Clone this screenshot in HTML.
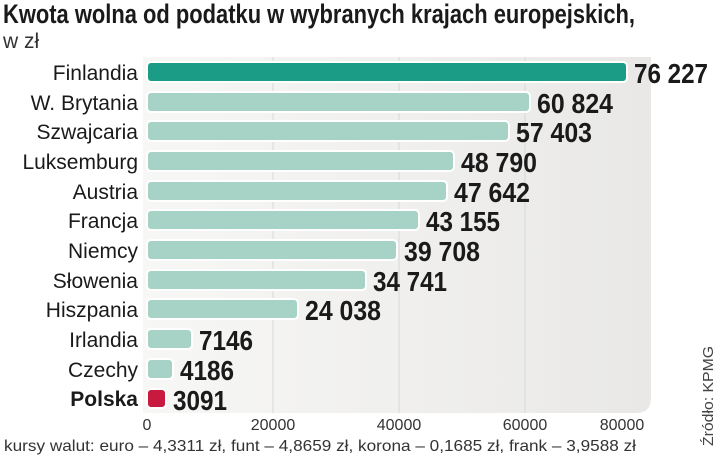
<!DOCTYPE html>
<html><head><meta charset="utf-8"><style>
html,body{margin:0;padding:0;background:#fff;}
svg{display:block;}
</style></head><body>
<svg width="720" height="455" viewBox="0 0 720 455" xmlns="http://www.w3.org/2000/svg">
<defs>
<linearGradient id="bg" x1="0" x2="1" y1="0" y2="0">
<stop offset="0" stop-color="#f7f7f6"/><stop offset="1" stop-color="#e9e8e6"/>
</linearGradient>
</defs>
<text x="3" y="23" font-family="Liberation Sans, sans-serif" font-weight="bold" font-size="27" fill="#1a1a1a" textLength="632" lengthAdjust="spacingAndGlyphs">Kwota wolna od podatku w wybranych krajach europejskich,</text>
<text x="3" y="48" font-family="Liberation Sans, sans-serif" font-size="21" fill="#333">w zł</text>
<path d="M143 57 H651 V398 Q651 413 636 413 H143 Z" fill="url(#bg)"/>
<g stroke="#d8d8d6" stroke-width="1">
<line x1="273" y1="57" x2="273" y2="413"/><line x1="399" y1="57" x2="399" y2="413"/><line x1="525" y1="57" x2="525" y2="413"/>
</g>
<g font-family="Liberation Sans, sans-serif" font-size="21" fill="#1a1a1a" text-anchor="end">
<text x="138" y="80">Finlandia</text>
<text x="138" y="110">W. Brytania</text>
<text x="138" y="139">Szwajcaria</text>
<text x="138" y="169">Luksemburg</text>
<text x="138" y="199">Austria</text>
<text x="138" y="228">Francja</text>
<text x="138" y="258">Niemcy</text>
<text x="138" y="288">Słowenia</text>
<text x="138" y="317">Hiszpania</text>
<text x="138" y="347">Irlandia</text>
<text x="138" y="377">Czechy</text>
<text x="138" y="406" font-weight="bold">Polska</text>
</g>
<g stroke="#fff" stroke-width="2">
<rect x="147" y="62" width="480" height="20" rx="4" fill="#1a9c87"/>
<rect x="147" y="92" width="383" height="20" rx="4" fill="#a6d3c6"/>
<rect x="147" y="121" width="362" height="20" rx="4" fill="#a6d3c6"/>
<rect x="147" y="151" width="307" height="20" rx="4" fill="#a6d3c6"/>
<rect x="147" y="181" width="300" height="20" rx="4" fill="#a6d3c6"/>
<rect x="147" y="210" width="272" height="20" rx="4" fill="#a6d3c6"/>
<rect x="147" y="240" width="250" height="20" rx="4" fill="#a6d3c6"/>
<rect x="147" y="270" width="219" height="20" rx="4" fill="#a6d3c6"/>
<rect x="147" y="299" width="151" height="20" rx="4" fill="#a6d3c6"/>
<rect x="147" y="329" width="45" height="20" rx="4" fill="#a6d3c6"/>
<rect x="147" y="359" width="26" height="20" rx="4" fill="#a6d3c6"/>
<rect x="147" y="389" width="19" height="19" rx="4" fill="#c8193f"/>
</g>
<g font-family="Liberation Sans, sans-serif" font-weight="bold" font-size="28" fill="#1a1a1a" lengthAdjust="spacingAndGlyphs">
<text x="634" y="83" textLength="74" lengthAdjust="spacingAndGlyphs">76 227</text>
<text x="537" y="113" textLength="76" lengthAdjust="spacingAndGlyphs">60 824</text>
<text x="516" y="142" textLength="76" lengthAdjust="spacingAndGlyphs">57 403</text>
<text x="461" y="172" textLength="76" lengthAdjust="spacingAndGlyphs">48 790</text>
<text x="454" y="202" textLength="76" lengthAdjust="spacingAndGlyphs">47 642</text>
<text x="426" y="231" textLength="74" lengthAdjust="spacingAndGlyphs">43 155</text>
<text x="404" y="261" textLength="76" lengthAdjust="spacingAndGlyphs">39 708</text>
<text x="373" y="291" textLength="74" lengthAdjust="spacingAndGlyphs">34 741</text>
<text x="305" y="320" textLength="76" lengthAdjust="spacingAndGlyphs">24 038</text>
<text x="199" y="350" textLength="54" lengthAdjust="spacingAndGlyphs">7146</text>
<text x="180" y="380" textLength="54" lengthAdjust="spacingAndGlyphs">4186</text>
<text x="173" y="410" textLength="54" lengthAdjust="spacingAndGlyphs">3091</text>
</g>
<g font-family="Liberation Sans, sans-serif" font-size="16" fill="#333" text-anchor="middle">
<text x="147" y="430">0</text><text x="273" y="430">20000</text><text x="399" y="430">40000</text><text x="525" y="430">60000</text><text x="622" y="430">80000</text>
</g>
<text x="4" y="451" font-family="Liberation Sans, sans-serif" font-size="16" fill="#333" textLength="632" lengthAdjust="spacingAndGlyphs">kursy walut: euro – 4,3311 zł, funt – 4,8659 zł, korona – 0,1685 zł, frank – 3,9588 zł</text>
<text transform="translate(713,446) rotate(-90)" font-family="Liberation Sans, sans-serif" font-size="15" fill="#444" textLength="100" lengthAdjust="spacingAndGlyphs">Źródło: KPMG</text>
</svg>
</body></html>
